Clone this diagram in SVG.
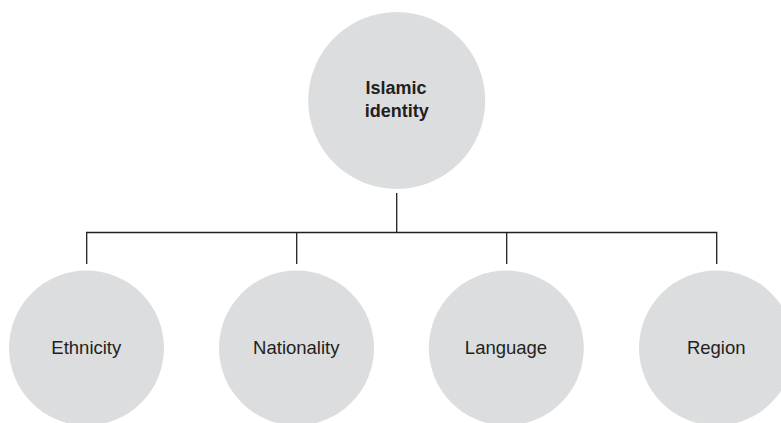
<svg xmlns="http://www.w3.org/2000/svg" width="781" height="423" viewBox="0 0 781 423">
<style>
.node{fill:#dcdddf}
.lbl{font-family:"Liberation Sans",Arial,sans-serif;font-size:18.5px;fill:#231f20;text-anchor:middle}
.root{font-weight:bold;font-size:18px}
.conn{stroke:#231f20;stroke-width:1.3;fill:none}
</style>
<rect width="781" height="423" fill="#ffffff"/>
<g id="connectors">
<path class="conn" d="M396.7,193 V232.5"/>
<path class="conn" d="M86.7,264 V232.5 H716.7 V264"/>
<path class="conn" d="M296.7,232.5 V264"/>
<path class="conn" d="M506.7,232.5 V264"/>
</g>
<g id="islamic-identity">
<circle class="node" cx="396.7" cy="100.5" r="88.5"/>
<text class="lbl root" x="396" y="94.3">Islamic</text>
<text class="lbl root" x="396.7" y="116.7">identity</text>
</g>
<g id="ethnicity">
<circle class="node" cx="86.5" cy="348" r="77.5"/>
<text class="lbl" x="86.3" y="354.3">Ethnicity</text>
</g>
<g id="nationality">
<circle class="node" cx="296.5" cy="348" r="77.5"/>
<text class="lbl" x="296.3" y="354.3">Nationality</text>
</g>
<g id="language">
<circle class="node" cx="506.3" cy="348" r="77.5"/>
<text class="lbl" x="506" y="354.3">Language</text>
</g>
<g id="region">
<circle class="node" cx="716.5" cy="348" r="77.5"/>
<text class="lbl" x="716.2" y="354.3">Region</text>
</g>
</svg>
